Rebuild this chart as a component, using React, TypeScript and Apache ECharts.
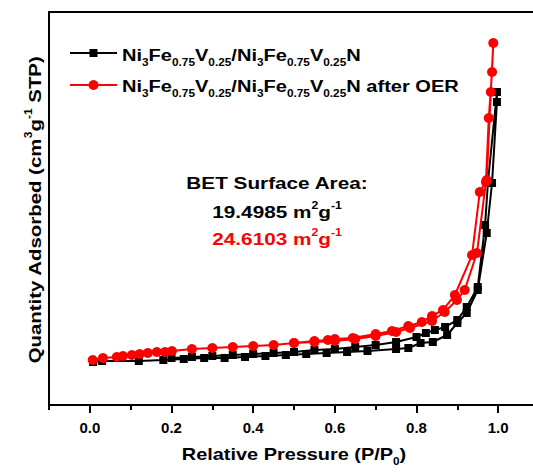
import React, { useEffect, useRef } from 'react';
import * as echarts from 'echarts';

// Relative pressure (P/P0) and quantity adsorbed
const blackAdsP = [0.008, 0.03, 0.12, 0.18, 0.23, 0.28, 0.33, 0.38, 0.43, 0.48, 0.53, 0.58, 0.63, 0.68, 0.75, 0.78, 0.81, 0.84, 0.875, 0.9, 0.923, 0.95, 0.972, 0.985, 0.997];
const blackAdsV = [8.75, 8.96, 8.96, 9.16, 9.36, 9.57, 9.57, 9.77, 9.97, 10.18, 10.38, 10.59, 10.79, 10.99, 11.4, 11.6, 12.62, 12.82, 14.25, 16.69, 18.73, 23.41, 35.01, 45.19, 61.68];
const blackDesP = [0.997, 0.975, 0.968, 0.95, 0.923, 0.9, 0.87, 0.845, 0.823, 0.8, 0.75, 0.7, 0.65, 0.6, 0.55, 0.5, 0.45, 0.4, 0.35, 0.3, 0.25, 0.2];
const blackDesV = [63.72, 45.39, 36.64, 24.02, 19.95, 17.3, 15.88, 15.27, 14.66, 13.84, 12.82, 12.21, 11.81, 11.4, 11.2, 10.79, 10.59, 10.38, 10.18, 9.97, 9.77, 9.57];

const redAdsP = [0.007, 0.032, 0.066, 0.081, 0.103, 0.122, 0.142, 0.164, 0.184, 0.201, 0.25, 0.3, 0.35, 0.4, 0.45, 0.5, 0.55, 0.6, 0.65, 0.7, 0.75, 0.784, 0.838, 0.869, 0.899, 0.918, 0.948, 0.97, 0.977, 0.985, 0.988];
const redAdsV = [9.16, 9.57, 9.77, 9.97, 10.18, 10.38, 10.59, 10.79, 10.79, 10.99, 11.4, 11.6, 11.81, 12.01, 12.21, 12.62, 12.82, 13.03, 13.44, 14.05, 14.86, 15.67, 17.1, 18.93, 21.37, 23.41, 30.94, 45.39, 58.42, 67.79, 73.69];
const redDesP = [0.982, 0.972, 0.955, 0.936, 0.894, 0.865, 0.838, 0.813, 0.78, 0.74, 0.7, 0.644, 0.6, 0.583, 0.55, 0.5];
const redDesV = [63.72, 45.8, 43.36, 30.53, 22.39, 19.34, 18.12, 16.9, 16.08, 15.06, 14.45, 13.64, 13.44, 13.23, 13.03, 12.62];

const xLabelValues = [0, 0.2, 0.4, 0.6, 0.8, 1.0];
const seriesNames = ['Ni3Fe0.75V0.25/Ni3Fe0.75V0.25N', 'Ni3Fe0.75V0.25/Ni3Fe0.75V0.25N after OER'];
const richNames = [
  'Ni{sub|3}Fe{sub|0.75}V{sub|0.25}/Ni{sub|3}Fe{sub|0.75}V{sub|0.25}N',
  'Ni{sub|3}Fe{sub|0.75}V{sub|0.25}/Ni{sub|3}Fe{sub|0.75}V{sub|0.25}N after OER',
];
const betTitle = 'BET Surface Area:';
const betValues = ['19.4985', '24.6103'];
const xTitle = 'Relative Pressure (P/P{sub|0})';
const yTitle = 'Quantity Adsorbed (cm{sup|3}g{sup|-1} STP)';
const colors = ['#000000', '#ff0000'];

const FONT = "'Liberation Sans', Arial, Helvetica, sans-serif";

function pairs(p: number[], v: number[]) {
  return p.map((x, i) => [x, v[i]]);
}

const subStyle = { fontSize: 10, fontWeight: 'bold', fontFamily: FONT, verticalAlign: 'bottom', lineHeight: 6 };
const supStyle = { fontSize: 10, fontWeight: 'bold', fontFamily: FONT, verticalAlign: 'top', lineHeight: 14 };

function txt(text: string, x: number, y: number, color: string, align: string, sx: number, rotation = 0) {
  return {
    type: 'text',
    x,
    y,
    rotation,
    scaleX: sx,
    style: {
      text,
      x: 0,
      y: 0,
      fontSize: 17,
      fontWeight: 'bold',
      fontFamily: FONT,
      fill: color,
      lineHeight: 24,
      align,
      verticalAlign: 'middle',
      rich: { sub: { ...subStyle, fill: color }, sup: { ...supStyle, fill: color } },
    },
  };
}

export default function App() {
  const ref = useRef<HTMLDivElement>(null);
  useEffect(() => {
    if (!ref.current) return;
    const chart = echarts.init(ref.current, undefined, { renderer: 'svg' });
    const option: any = {
      animation: false,
      backgroundColor: '#ffffff',
      grid: { left: 49, right: 6, top: 12, bottom: 69, show: true, borderColor: '#000', borderWidth: 2 },
      xAxis: [
        {
          type: 'value',
          min: -0.1,
          max: 1.1,
          interval: 0.1,
          position: 'bottom',
          axisLine: { show: true, lineStyle: { color: '#000', width: 2 } },
          axisTick: { show: true, length: 5, lineStyle: { color: '#000', width: 2 } },
          axisLabel: { show: false },
          splitLine: { show: false },
        },
        {
          type: 'value',
          min: -0.1,
          max: 1.1,
          position: 'bottom',
          axisLine: { show: false },
          axisTick: { show: true, length: 8, customValues: xLabelValues, lineStyle: { color: '#000', width: 2 } },
          axisLabel: {
            show: true,
            customValues: xLabelValues,
            margin: 15,
            fontSize: 15,
            fontWeight: 'bold',
            fontFamily: FONT,
            color: '#000',
            formatter: (v: number) => v.toFixed(1),
          },
          splitLine: { show: false },
        },
      ],
      yAxis: {
        type: 'value',
        min: 0,
        max: 80,
        axisLine: { show: false },
        axisTick: { show: false },
        axisLabel: { show: false },
        splitLine: { show: false },
      },
      graphic: [
        // legend
        { type: 'line', shape: { x1: 70, y1: 53, x2: 117, y2: 53 }, style: { stroke: colors[0], lineWidth: 2 } },
        { type: 'rect', shape: { x: 89.5, y: 49, width: 8, height: 8 }, style: { fill: colors[0] } },
        txt(richNames[0], 122, 55.5, '#000', 'left', 1.18),
        { type: 'line', shape: { x1: 70, y1: 85, x2: 117, y2: 85 }, style: { stroke: colors[1], lineWidth: 2 } },
        { type: 'circle', shape: { cx: 93.5, cy: 85, r: 5 }, style: { fill: colors[1] } },
        txt(richNames[1], 122, 86, '#000', 'left', 1.18),
        // BET annotation
        txt(betTitle, 277, 183, '#000', 'center', 1.22),
        ...betValues.map((b, i) => txt(b + ' m{sup|2}g{sup|-1}', 277, 212 + i * 27, colors[i], 'center', 1.22)),
        // axis titles
        txt(xTitle, 294, 454, '#000', 'center', 1.17),
        txt(yTitle, 35, 210, '#000', 'center', 1.2, Math.PI / 2),
      ],
      series: [
        {
          name: seriesNames[0],
          type: 'line',
          data: [...pairs(blackAdsP, blackAdsV), ...pairs(blackDesP, blackDesV)],
          symbol: 'rect',
          symbolSize: 8,
          color: colors[0],
          lineStyle: { color: colors[0], width: 2 },
          itemStyle: { color: colors[0] },
          z: 2,
        },
        {
          name: seriesNames[1],
          type: 'line',
          data: [...pairs(redAdsP, redAdsV), ...pairs(redDesP, redDesV)],
          symbol: 'circle',
          symbolSize: 10,
          color: colors[1],
          lineStyle: { color: colors[1], width: 2 },
          itemStyle: { color: colors[1] },
          z: 3,
        },
      ],
    };
    chart.setOption(option);
    return () => chart.dispose();
  }, []);
  return (
    <div style={{ position: 'fixed', left: 0, top: 0, width: 533, height: 474, overflow: 'hidden', background: '#fff' }}>
      <div ref={ref} style={{ width: 545, height: 474 }} />
    </div>
  );
}
